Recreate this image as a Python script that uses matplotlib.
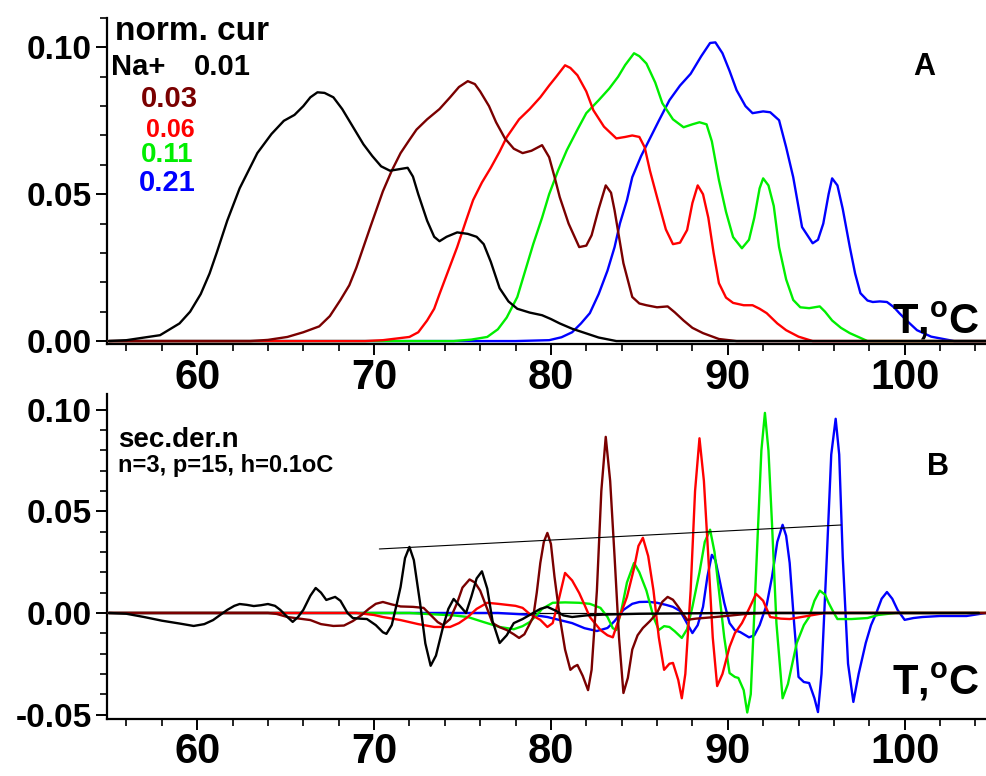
import matplotlib
matplotlib.use("Agg")
import matplotlib.pyplot as plt
from matplotlib.ticker import MultipleLocator, FormatStrFormatter

plt.rcParams['font.family'] = ['Liberation Sans', 'DejaVu Sans']
plt.rcParams['font.weight'] = 'bold'
plt.rcParams['mathtext.fontset'] = 'custom'
plt.rcParams['mathtext.rm'] = 'Liberation Sans:bold'
plt.rcParams['mathtext.bf'] = 'Liberation Sans:bold'
plt.rcParams['mathtext.it'] = 'Liberation Sans:bold'
plt.rcParams['lines.solid_joinstyle'] = 'round'
plt.rcParams['lines.solid_capstyle'] = 'round'

# ---- panel A: normalized current vs T for each Na+ concentration ----
na_labels = ['0.01', '0.03', '0.06', '0.11', '0.21']
colors = ['#000000', '#7a0000', '#ff0000', '#00ee00', '#0000ff']

t_001 = [55.0, 56.0, 57.0, 57.9, 59.0, 59.6, 60.2, 60.7, 61.1, 61.7, 62.4, 63.4, 64.2, 64.9, 65.5, 66.0,
         66.4, 66.8, 67.2, 67.7, 68.2, 68.8, 69.4, 69.9, 70.4, 70.9, 71.4, 71.9, 72.2, 72.5, 73.0, 73.4,
         73.7, 74.1, 74.7, 75.3, 75.8, 76.2, 76.6, 77.1, 77.6, 78.1, 78.8, 79.5, 80.0, 80.5, 81.2, 81.8,
         82.7, 83.7, 104.6]
c_001 = [0.0, 0.0003, 0.0012, 0.002, 0.006, 0.010, 0.016, 0.023, 0.030, 0.041, 0.052, 0.064, 0.0705, 0.075,
         0.077, 0.080, 0.083, 0.0847, 0.0845, 0.083, 0.079, 0.073, 0.067, 0.063, 0.0595, 0.058, 0.0585,
         0.059, 0.056, 0.050, 0.041, 0.0355, 0.034, 0.0355, 0.037, 0.0365, 0.0355, 0.033, 0.027, 0.018,
         0.0135, 0.011, 0.0097, 0.0088, 0.0075, 0.006, 0.0042, 0.003, 0.0012, 0.0, 0.0]

t_003 = [55.0, 63.0, 64.0, 65.1, 66.0, 66.9, 67.5, 68.1, 68.6, 69.0, 69.4, 69.8, 70.5, 71.0, 71.5, 72.0,
         72.4, 73.0, 73.7, 74.3, 74.8, 75.3, 75.7, 76.0, 76.5, 76.9, 77.4, 77.9, 78.4, 78.9, 79.5, 79.9,
         80.2, 80.5, 81.0, 81.6, 82.0, 82.3, 82.7, 83.1, 83.4, 83.6, 84.1, 84.6, 85.0, 85.4, 86.0, 86.6,
         87.0, 87.5, 88.0, 88.6, 89.5, 90.5, 104.6]
c_003 = [0.0, 0.0, 0.0004, 0.0014, 0.003, 0.005, 0.0085, 0.014, 0.019, 0.025, 0.032, 0.039, 0.051, 0.058,
         0.064, 0.0685, 0.072, 0.0755, 0.079, 0.083, 0.0865, 0.0885, 0.0875, 0.085, 0.080, 0.0745, 0.069,
         0.0655, 0.064, 0.0648, 0.0667, 0.0626, 0.056, 0.049, 0.040, 0.032, 0.0325, 0.036, 0.045, 0.053,
         0.0505, 0.0445, 0.0265, 0.015, 0.0128, 0.0122, 0.0115, 0.0118, 0.0098, 0.007, 0.0045, 0.0027,
         0.0007, 0.0, 0.0]

t_006 = [55.0, 69.5, 70.5, 72.0, 72.5, 73.0, 73.4, 73.7, 74.2, 74.7, 75.2, 75.6, 76.1, 76.6, 77.1, 77.5,
         78.2, 78.8, 79.4, 79.9, 80.3, 80.8, 81.1, 81.5, 82.0, 82.4, 83.0, 83.7, 84.2, 84.6, 85.0, 85.3,
         85.6, 86.0, 86.5, 86.9, 87.3, 87.7, 88.0, 88.3, 88.6, 88.9, 89.2, 89.5, 89.9, 90.3, 90.9, 91.4,
         91.8, 92.2, 92.8, 93.3, 94.0, 94.8, 104.6]
c_006 = [0.0, 0.0, 0.0003, 0.0014, 0.003, 0.007, 0.011, 0.016, 0.024, 0.032, 0.041, 0.048, 0.054, 0.059,
         0.0645, 0.0694, 0.0755, 0.079, 0.083, 0.087, 0.090, 0.0939, 0.093, 0.0905, 0.085, 0.0786, 0.073,
         0.069, 0.0695, 0.070, 0.0695, 0.066, 0.058, 0.049, 0.038, 0.033, 0.0335, 0.0378, 0.047, 0.053,
         0.050, 0.042, 0.030, 0.0197, 0.0148, 0.013, 0.0122, 0.0122, 0.011, 0.0095, 0.006, 0.0037,
         0.0015, 0.0, 0.0]

t_011 = [55.0, 74.5, 75.5, 76.4, 77.0, 77.5, 78.1, 78.5, 79.0, 79.5, 79.9, 80.4, 80.9, 81.5, 82.0, 82.7,
         83.3, 83.8, 84.2, 84.7, 85.0, 85.4, 85.9, 86.3, 86.9, 87.5, 88.0, 88.4, 88.8, 89.1, 89.5, 89.9,
         90.3, 90.8, 91.2, 91.5, 91.8, 92.0, 92.3, 92.6, 92.9, 93.3, 93.7, 94.1, 94.6, 95.2, 95.5, 95.9,
         96.4, 96.9, 97.9, 104.6]
c_011 = [0.0, 0.0, 0.0005, 0.0014, 0.004, 0.008, 0.015, 0.023, 0.033, 0.042, 0.050, 0.058, 0.065, 0.072,
         0.0776, 0.082, 0.086, 0.090, 0.094, 0.098, 0.097, 0.0945, 0.088, 0.081, 0.0755, 0.0728, 0.0738,
         0.0745, 0.0738, 0.068, 0.0548, 0.044, 0.0354, 0.0316, 0.0345, 0.042, 0.052, 0.0554, 0.053, 0.046,
         0.032, 0.021, 0.014, 0.0115, 0.0112, 0.0118, 0.010, 0.007, 0.0045, 0.0027, 0.0, 0.0]

t_021 = [55.0, 78.0, 79.9, 80.6, 81.2, 81.7, 82.2, 82.7, 83.2, 83.6, 83.9, 84.3, 84.6, 85.1, 85.6, 86.1,
         86.7, 87.3, 87.9, 88.5, 89.0, 89.3, 89.7, 90.1, 90.5, 91.0, 91.4, 92.0, 92.4, 92.9, 93.3, 93.7,
         94.2, 94.8, 95.1, 95.4, 95.7, 95.9, 96.2, 96.5, 96.9, 97.2, 97.5, 97.9, 98.2, 98.6, 99.0, 99.4,
         99.7, 100.2, 100.7, 101.5, 102.8, 104.6]
c_021 = [0.0, 0.0, 0.0003, 0.0013, 0.003, 0.006, 0.0095, 0.016, 0.024, 0.032, 0.040, 0.048, 0.0558, 0.063,
         0.069, 0.075, 0.082, 0.087, 0.091, 0.097, 0.1015, 0.1017, 0.098, 0.092, 0.0854, 0.080, 0.0776,
         0.0782, 0.0779, 0.0752, 0.066, 0.0558, 0.0388, 0.0333, 0.0345, 0.040, 0.050, 0.0554, 0.053, 0.045,
         0.032, 0.023, 0.0163, 0.0138, 0.0133, 0.0135, 0.0133, 0.0115, 0.0095, 0.0065, 0.0037, 0.0015,
         0.0, 0.0]

# ---- panel B: normalized second derivatives ----
d_t_001 = [55.0, 56.0, 57.0, 58.0, 59.0, 59.8, 60.4, 60.9, 61.3, 61.7, 62.1, 62.4, 62.8, 63.2, 63.6, 64.0,
           64.4, 64.7, 65.1, 65.4, 65.7, 66.0, 66.4, 66.7, 67.0, 67.3, 67.8, 68.1, 68.5, 68.8, 69.2, 69.6,
           70.1, 70.5, 70.7, 71.0, 71.3, 71.5, 71.75, 72.0, 72.25, 72.6, 72.9, 73.2, 73.5, 73.9, 74.2,
           74.5, 74.8, 75.2, 75.5, 75.8, 76.1, 76.4, 76.7, 77.1, 77.5, 77.9, 78.4, 79.0, 79.4, 79.8, 80.3,
           80.7, 81.2, 82.0, 83.0, 85.0, 90.0, 104.2]
d_001 = [0.0, -0.0004, -0.002, -0.0038, -0.0052, -0.0064, -0.0055, -0.0035, -0.001, 0.0015, 0.0035, 0.0044,
         0.0040, 0.0034, 0.0038, 0.0044, 0.0035, 0.0015, -0.002, -0.0044, -0.002, 0.0015, 0.0085, 0.0123,
         0.010, 0.0064, 0.0079, 0.006, 0.0, -0.0025, -0.0028, -0.003, -0.006, -0.0095, -0.0103, -0.006,
         0.005, 0.0128, 0.027, 0.0325, 0.026, 0.005, -0.015, -0.026, -0.021, -0.0069, 0.002, 0.0069, 0.004,
         0.0, 0.008, 0.017, 0.0205, 0.012, -0.004, -0.0148, -0.011, -0.005, -0.003, 0.0, 0.002, 0.003,
         0.001, -0.0012, -0.002, -0.0012, -0.0008, -0.0004, 0.0, 0.0]

d_t_003 = [55.0, 64.0, 64.5, 65.1, 66.4, 67.0, 67.7, 68.3, 68.8, 69.3, 69.7, 70.1, 70.5, 71.0, 71.5, 72.2,
           72.8, 73.2, 73.6, 73.9, 74.3, 74.7, 75.0, 75.4, 75.7, 76.0, 76.4, 76.7, 77.1, 77.5, 77.9, 78.2,
           78.5, 79.0, 79.2, 79.4, 79.6, 79.8, 80.0, 80.2, 80.5, 80.8, 81.1, 81.3, 81.5, 81.8, 82.1, 82.3,
           82.6, 82.85, 83.1, 83.35, 83.6, 83.85, 84.1, 84.35, 84.6, 84.9, 85.2, 85.6, 86.0, 86.3, 86.6,
           86.9, 87.2, 87.7, 88.2, 88.6, 89.3, 89.9, 91.0, 92.0, 104.6]
d_003 = [0.0, 0.0, -0.0005, -0.002, -0.0035, -0.0055, -0.0064, -0.0062, -0.004, -0.001, 0.002, 0.0045,
         0.0054, 0.0042, 0.0032, 0.003, 0.0025, -0.001, -0.0045, -0.006, -0.003, 0.005, 0.0125, 0.0165,
         0.015, 0.011, 0.002, -0.005, -0.007, -0.0084, -0.0105, -0.0123, -0.0105, -0.002, 0.010, 0.0246,
         0.035, 0.0394, 0.034, 0.018, -0.002, -0.018, -0.028, -0.0265, -0.0256, -0.031, -0.038, -0.028,
         0.011, 0.060, 0.0867, 0.065, 0.0276, -0.012, -0.0394, -0.032, -0.018, -0.011, -0.0074, -0.004,
         0.0, 0.0055, 0.0079, 0.0065, 0.003, -0.0034, -0.0028, -0.0025, -0.002, -0.0015, -0.0005, 0.0, 0.0]

d_t_006 = [55.0, 69.0, 70.0, 70.5, 71.5, 72.5, 73.4, 74.3, 74.8, 75.3, 75.8, 76.4, 77.0, 77.5, 78.0, 78.4,
           78.8, 79.4, 79.8, 80.1, 80.4, 80.8, 81.2, 81.6, 81.9, 82.2, 82.8, 83.2, 83.5, 83.8, 84.3, 84.7,
           84.95, 85.2, 85.5, 85.8, 86.1, 86.4, 86.7, 86.9, 87.2, 87.4, 87.6, 87.9, 88.15, 88.4, 88.65,
           88.9, 89.15, 89.4, 89.7, 90.1, 90.4, 90.8, 91.2, 91.6, 92.0, 92.4, 93.0, 93.5, 94.5, 95.5, 104.6]
d_006 = [0.0, 0.0, -0.001, -0.002, -0.0035, -0.0055, -0.0069, -0.0069, -0.005, -0.002, 0.002, 0.005, 0.0045,
         0.004, 0.0035, 0.0025, -0.0005, -0.0034, -0.0069, -0.005, 0.005, 0.0197, 0.016, 0.0098, 0.004,
         -0.002, -0.0084, -0.011, -0.012, -0.004, 0.0079, 0.022, 0.033, 0.037, 0.028, 0.011, -0.012,
         -0.028, -0.025, -0.0246, -0.033, -0.042, -0.03, 0.011, 0.06, 0.086, 0.065, 0.0276, -0.012,
         -0.036, -0.030, -0.0167, -0.010, -0.005, 0.002, 0.0094, 0.006, -0.002, -0.0028, -0.003, -0.0015,
         0.0, 0.0]

d_t_011 = [55.0, 72.0, 73.0, 74.5, 75.3, 76.2, 77.1, 77.9, 78.4, 78.8, 79.2, 79.5, 80.1, 80.8, 81.6, 82.2,
           82.8, 83.2, 83.5, 83.7, 84.0, 84.3, 84.7, 85.0, 85.4, 85.8, 86.1, 86.4, 86.7, 87.0, 87.4, 87.7,
           88.0, 88.4, 88.7, 89.0, 89.25, 89.5, 89.8, 90.1, 90.4, 90.6, 90.9, 91.1, 91.3, 91.5, 91.7,
           91.9, 92.1, 92.3, 92.5, 92.75, 93.1, 93.4, 93.9, 94.3, 94.6, 94.9, 95.2, 95.5, 95.7, 96.0, 96.2,
           97.0, 97.9, 98.5, 99.5, 104.6]
d_011 = [0.0, 0.0, -0.0005, -0.0012, -0.002, -0.0045, -0.0069, -0.008, -0.0065, -0.0045, -0.001, 0.002,
         0.005, 0.0052, 0.005, 0.0045, 0.0025, -0.002, -0.0075, -0.0084, 0.002, 0.015, 0.0246, 0.020,
         0.011, -0.002, -0.0084, -0.0065, -0.0069, -0.009, -0.0123, -0.008, 0.003, 0.020, 0.035, 0.041,
         0.03, 0.011, -0.012, -0.0296, -0.0315, -0.032, -0.038, -0.049, -0.040, 0.0, 0.040, 0.080, 0.0985,
         0.080, 0.044, -0.005, -0.042, -0.035, -0.0148, -0.006, -0.002, 0.006, 0.011, 0.009, 0.005, 0.0,
         -0.003, -0.003, -0.0025, -0.001, 0.0, 0.0]

d_t_021 = [55.0, 77.0, 79.0, 79.8, 80.5, 81.2, 81.9, 82.6, 83.2, 83.6, 84.1, 84.6, 85.0, 85.5, 86.0, 86.5,
           86.9, 87.3, 87.5, 88.0, 88.3, 88.6, 88.85, 89.1, 89.3, 89.5, 89.8, 90.1, 90.4, 90.7, 91.2, 91.5,
           91.8, 92.2, 92.5, 92.8, 93.1, 93.3, 93.5, 93.75, 94.0, 94.3, 94.6, 94.9, 95.1, 95.3, 95.6, 95.85,
           96.1, 96.3, 96.5, 96.8, 97.1, 97.4, 97.8, 98.1, 98.4, 98.7, 99.0, 99.3, 99.6, 100.0, 100.5,
           101.0, 102.0, 103.5, 104.6]
d_021 = [0.0, 0.0, -0.001, -0.002, -0.0035, -0.005, -0.0075, -0.0089, -0.0074, -0.004, 0.0015, 0.0045,
         0.0054, 0.0055, 0.005, 0.004, 0.003, 0.001, -0.002, -0.0099, -0.006, 0.003, 0.018, 0.0286, 0.026,
         0.0177, 0.005, -0.005, -0.0085, -0.0094, -0.012, -0.011, -0.006, 0.004, 0.0177, 0.035, 0.0434,
         0.038, 0.0246, -0.005, -0.0315, -0.034, -0.0345, -0.042, -0.0488, -0.030, 0.0276, 0.078, 0.0956,
         0.078, 0.0276, -0.025, -0.0438, -0.030, -0.0148, -0.006, 0.0, 0.007, 0.0103, 0.007, 0.0015,
         -0.0034, -0.0025, -0.002, -0.0015, -0.0015, 0.0]

# straight line through the main second-derivative maxima
trend_t = [70.3, 96.4]
trend_d = [0.0315, 0.0433]

cur_t = [t_001, t_003, t_006, t_011, t_021]
cur_v = [c_001, c_003, c_006, c_011, c_021]
der_t = [d_t_001, d_t_003, d_t_006, d_t_011, d_t_021]
der_v = [d_001, d_003, d_006, d_011, d_021]

fig = plt.figure(figsize=(9.86, 7.76), dpi=100)
ax1 = fig.add_axes([0.1085, 0.5567, 0.8915, 0.4201])
ax2 = fig.add_axes([0.1085, 0.0740, 0.8915, 0.4188])

# draw the highest concentration first so the 0.01 curve sits on top
for i in reversed(range(5)):
    ax1.plot(cur_t[i], cur_v[i], color=colors[i], lw=1.7, zorder=3 + (5 - i) * 0.1)

ax2.axhline(0, color='black', lw=0.9, zorder=2)
for i in reversed(range(5)):
    ax2.plot(der_t[i], der_v[i], color=colors[i], lw=1.7, zorder=3 + (5 - i) * 0.1)
ax2.plot(trend_t, trend_d, color='black', lw=0.8, zorder=4)

for ax in (ax1, ax2):
    ax.set_xlim(54.9, 104.6)
    ax.xaxis.set_major_locator(MultipleLocator(10))
    ax.xaxis.set_minor_locator(MultipleLocator(2))
    ax.yaxis.set_major_locator(MultipleLocator(0.05))
    ax.yaxis.set_minor_locator(MultipleLocator(0.01))
    ax.yaxis.set_major_formatter(FormatStrFormatter('%.2f'))
    ax.spines['top'].set_visible(False)
    ax.spines['right'].set_visible(False)
    ax.spines['left'].set_linewidth(1.6)
    ax.spines['bottom'].set_linewidth(1.6)
    ax.tick_params(which='major', direction='out', length=8, width=1.4, pad=3)
    ax.tick_params(which='minor', direction='out', length=5, width=1.2)
    ax.tick_params(axis='x', labelsize=30, pad=2)
    ax.tick_params(axis='y', labelsize=24, pad=3)
    for lab in ax.get_xticklabels() + ax.get_yticklabels():
        lab.set_fontweight('bold')

ax1.set_ylim(-0.001, 0.11)
ax2.set_ylim(-0.052, 0.108)

# legend block written as coloured numbers
ax1.text(55.35, 0.1024, 'norm. cur', fontsize=24, fontweight='bold', ha='left', va='baseline')
ax1.text(55.1, 0.0905, 'Na+', fontsize=21, fontweight='bold', ha='left', va='baseline')
ax1.text(59.8, 0.0905, na_labels[0], fontsize=21, fontweight='bold', color=colors[0], ha='left', va='baseline')
ax1.text(56.8, 0.0796, na_labels[1], fontsize=21, fontweight='bold', color=colors[1], ha='left', va='baseline')
ax1.text(57.1, 0.0694, na_labels[2], fontsize=18, fontweight='bold', color=colors[2], ha='left', va='baseline')
ax1.text(56.8, 0.0608, na_labels[3], fontsize=20, fontweight='bold', color=colors[3], ha='left', va='baseline')
ax1.text(56.7, 0.0512, na_labels[4], fontsize=21, fontweight='bold', color=colors[4], ha='left', va='baseline')
ax1.text(101.1, 0.0932, 'A', fontsize=22, fontweight='bold', ha='center', va='center')
ax1.text(99.3, 0.0027, r'T,$^{\rm o}$C', fontsize=30, fontweight='bold', ha='left', va='baseline', zorder=6)

ax2.text(55.5, 0.0818, 'sec.der.n', fontsize=20, fontweight='bold', ha='left', va='baseline')
ax2.text(55.5, 0.0695, 'n=3, p=15, h=0.1oC', fontsize=17, fontweight='bold', ha='left', va='baseline')
ax2.text(101.9, 0.0719, 'B', fontsize=22, fontweight='bold', ha='center', va='center')
ax2.text(99.3, -0.040, r'T,$^{\rm o}$C', fontsize=30, fontweight='bold', ha='left', va='baseline', zorder=6)

fig.savefig('out.png', dpi=100)
